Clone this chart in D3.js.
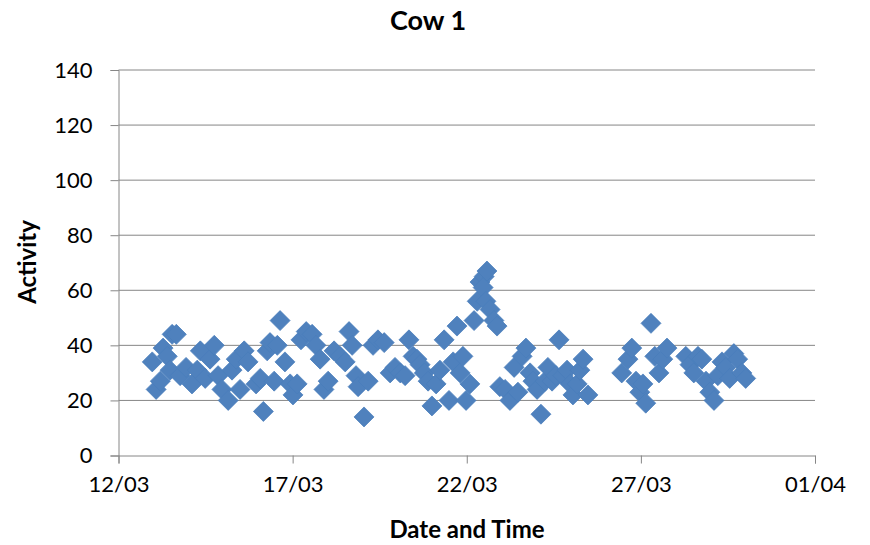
<!DOCTYPE html>
<html>
<head>
<meta charset="utf-8">
<script src="https://cdn.jsdelivr.net/npm/d3@7"></script>
<style>
  html, body { margin: 0; padding: 0; background: #fff; }
  svg { display: block; }
  text { font-family: Lato, "Open Sans", "Liberation Sans", sans-serif; fill: #000; }
</style>
</head>
<body>
<svg id="chart" width="870" height="545"></svg>
<script>
// ---- Data ----
const chartTitle = "Cow 1";
const xAxisTitle = "Date and Time";
const yAxisTitle = "Activity";

// Time of each reading, as fractional day of March
const dayOfMarch = [
  12.97, 13.08, 13.20, 13.28, 13.40, 13.54, 13.66, 13.48, 13.77, 13.94,
  14.11, 14.26, 14.35, 14.49, 14.63, 14.75, 14.86, 14.97, 15.15, 15.26,
  15.38, 15.49, 15.61, 15.72, 15.95, 16.07, 16.16, 16.27, 16.35, 16.47,
  16.64, 16.56, 16.78, 16.93, 17.01, 17.13, 17.24, 17.39, 17.56, 17.67,
  17.79, 17.90, 18.02, 18.19, 18.36, 18.51, 18.62, 18.71, 18.82, 18.88,
  19.05, 19.17, 19.31, 19.45, 19.63, 19.80, 19.94, 20.09, 20.23, 20.34,
  20.46, 20.57, 20.66, 20.78, 20.89, 21.00, 21.12, 21.23, 21.35, 21.49,
  21.61, 21.72, 21.81, 21.89, 21.98, 22.09, 22.21, 22.30, 22.38, 22.50,
  22.58, 22.47, 22.55, 22.67, 22.78, 22.87, 22.95, 23.10, 23.24, 23.36,
  23.47, 23.59, 23.70, 23.82, 23.90, 24.02, 24.13, 24.25, 24.33, 24.45,
  24.56, 24.65, 24.76, 24.88, 24.97, 25.05, 25.17, 25.25, 25.34, 25.48,
  26.45, 26.63, 26.74, 26.86, 26.97, 27.06, 27.14, 27.29, 27.40, 27.52,
  27.63, 27.75, 28.29, 28.41, 28.52, 28.64, 28.75, 28.87, 28.98, 29.10,
  29.21, 29.33, 29.44, 29.55, 29.67, 29.78, 29.90, 30.01
];

const activity = [
  34, 24, 27, 39, 36, 44, 44, 31, 29, 32,
  26, 31, 38, 28, 35, 40, 29, 24, 20, 31,
  35, 24, 38, 34, 26, 28, 16, 38, 41, 27,
  49, 40, 34, 26, 22, 26, 42, 45, 44, 40,
  35, 24, 27, 38, 36, 34, 45, 40, 29, 25,
  14, 27, 40, 42, 41, 30, 32, 30, 29, 42,
  36, 35, 33, 30, 27, 18, 26, 31, 42, 20,
  34, 47, 30, 36, 20, 26, 49, 56, 63, 65,
  67, 61, 56, 53, 49, 47, 25, 24, 20, 32,
  23, 36, 39, 30, 27, 24, 15, 27, 32, 27,
  29, 42, 29, 31, 26, 22, 26, 31, 35, 22,
  30, 35, 39, 27, 23, 26, 19, 48, 36, 30,
  35, 39, 36, 33, 30, 36, 35, 27, 23, 20,
  29, 34, 32, 28, 37, 35, 30, 28
];

const yTicks = [0, 20, 40, 60, 80, 100, 120, 140];
const xTickDays = [12, 17, 22, 27, 32];   // 32 March == 01/04
const xTickLabels = ["12/03", "17/03", "22/03", "27/03", "01/04"];

// ---- Helpers ----
const baseUTC = Date.UTC(2011, 2, 1);
const toDate = d => new Date(baseUTC + (d - 1) * 864e5);

// ---- Layout ----
const svg = d3.select("#chart");
const margin = { left: 118.5, right: 55, top: 70, bottom: 89.5 };
const W = 870, H = 545;

const x = d3.scaleUtc()
  .domain([toDate(12), toDate(32)])
  .range([margin.left, W - margin.right]);
const y = d3.scaleLinear()
  .domain([0, 140])
  .range([H - margin.bottom, margin.top]);

const gridColor = "#868686";
const tickFont = 22;

// Gridlines
svg.append("g")
  .selectAll("line")
  .data(yTicks.filter(t => t > 0))
  .join("line")
  .attr("x1", margin.left).attr("x2", W - margin.right)
  .attr("y1", d => y(d)).attr("y2", d => y(d))
  .attr("stroke", gridColor).attr("stroke-width", 1);

// Y axis
const yAxis = svg.append("g")
  .attr("transform", `translate(${margin.left},0)`)
  .call(d3.axisLeft(y).tickValues(yTicks).tickSize(8).tickPadding(18));
yAxis.select(".domain").attr("stroke", gridColor);
yAxis.selectAll(".tick line").attr("stroke", gridColor);
yAxis.selectAll(".tick text")
  .attr("font-size", tickFont)
  .attr("font-family", "Lato, 'Open Sans', sans-serif")
  .attr("fill", "#000");

// X axis
const xAxis = svg.append("g")
  .attr("transform", `translate(0,${y(0)})`)
  .call(d3.axisBottom(x)
    .tickValues(xTickDays.map(toDate))
    .tickFormat((d, i) => xTickLabels[i])
    .tickSize(8).tickPadding(13));
xAxis.select(".domain").attr("stroke", gridColor);
xAxis.selectAll(".tick line").attr("stroke", gridColor);
xAxis.selectAll(".tick text")
  .attr("font-size", tickFont)
  .attr("font-family", "Lato, 'Open Sans', sans-serif")
  .attr("fill", "#000");

// Points (diamonds)
const diamond = "M0,-10L10,0L0,10L-10,0Z";
svg.append("g")
  .selectAll("path")
  .data(dayOfMarch.map((d, i) => ({ t: toDate(d), v: activity[i] })))
  .join("path")
  .attr("d", diamond)
  .attr("transform", d => `translate(${x(d.t)},${y(d.v)})`)
  .attr("fill", "#4F81BD")
  .attr("stroke", "#4A7EBB")
  .attr("stroke-width", 0.75);

// Titles
svg.append("text")
  .attr("x", 428).attr("y", 30)
  .attr("text-anchor", "middle")
  .attr("font-size", 27).attr("font-weight", "bold")
  .text(chartTitle);

svg.append("text")
  .attr("x", 467).attr("y", 538)
  .attr("text-anchor", "middle")
  .attr("font-size", 24).attr("font-weight", "bold")
  .text(xAxisTitle);

svg.append("text")
  .attr("transform", "translate(36,262) rotate(-90)")
  .attr("text-anchor", "middle")
  .attr("font-size", 24).attr("font-weight", "bold")
  .text(yAxisTitle);
</script>
</body>
</html>
